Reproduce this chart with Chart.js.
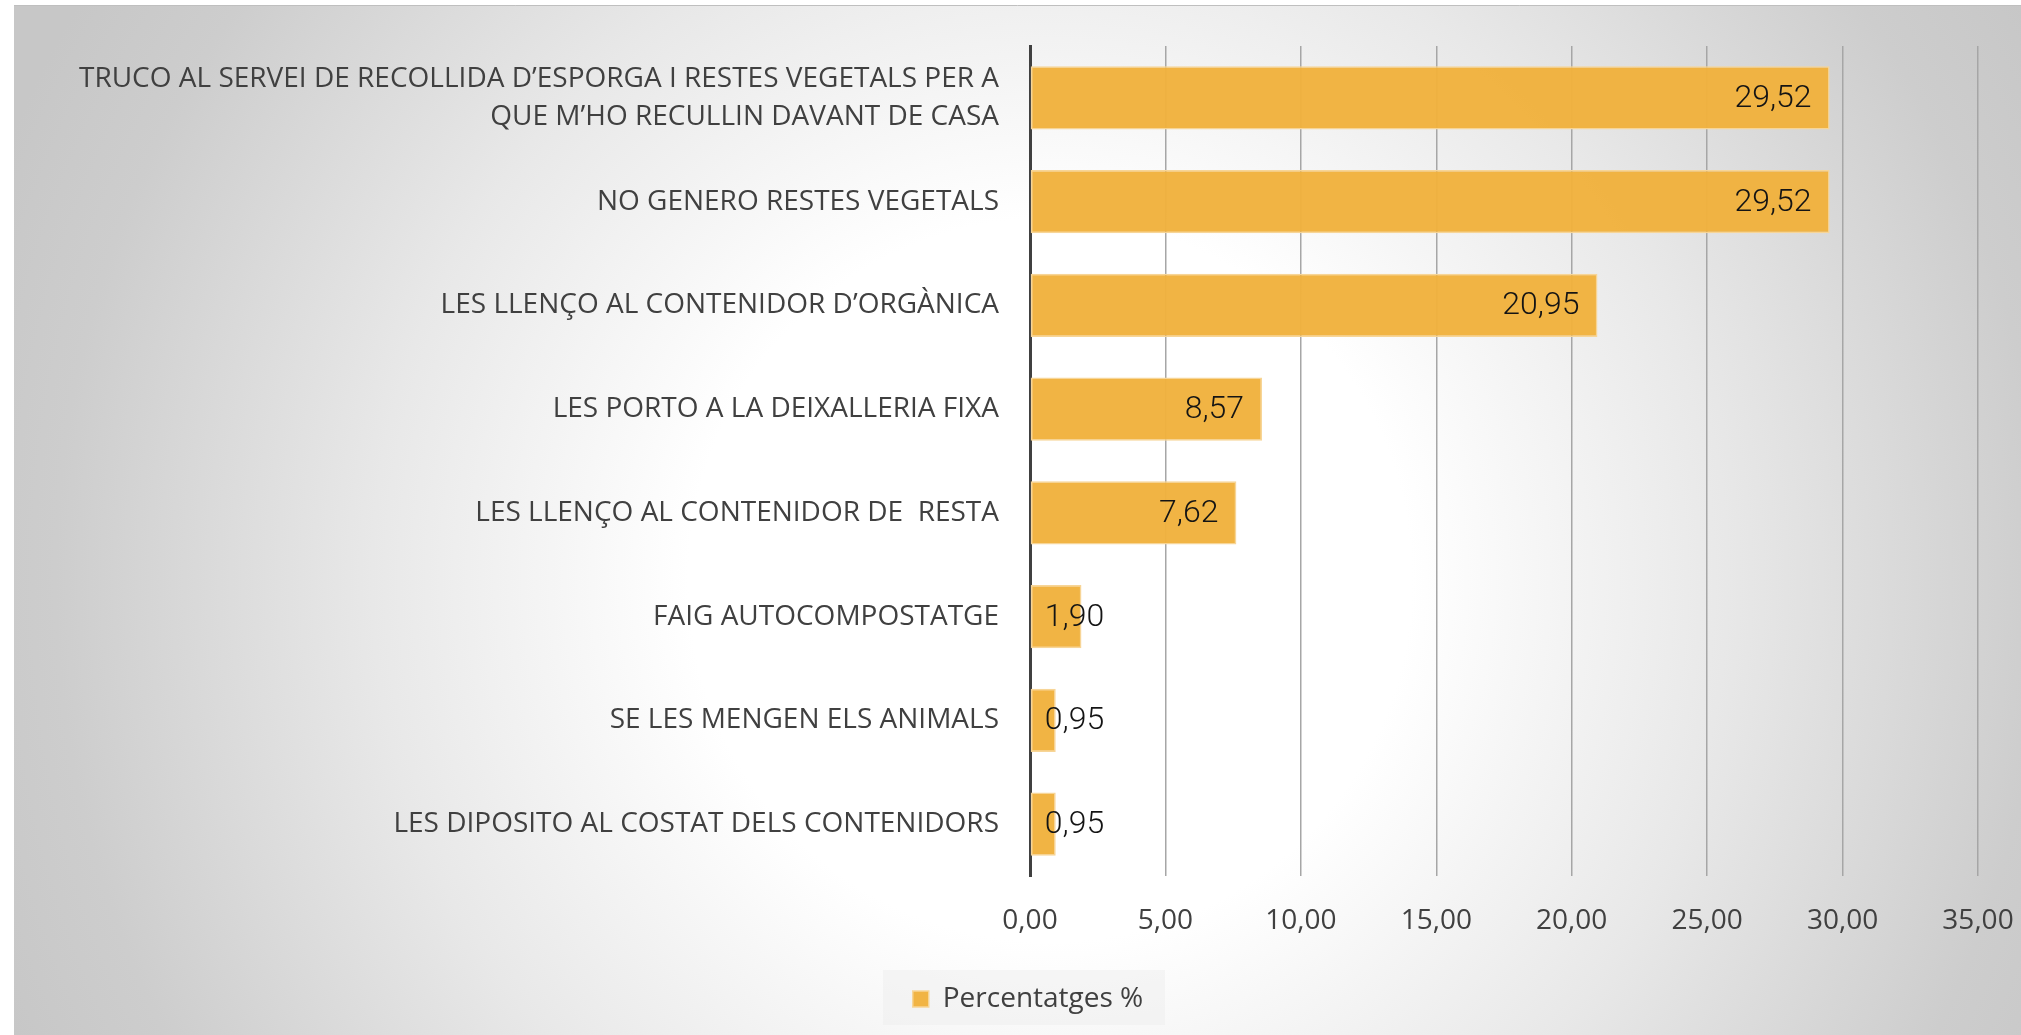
<!DOCTYPE html>
<html>
<head>
<meta charset="utf-8">
<script src="https://cdn.jsdelivr.net/npm/chart.js@4/dist/chart.umd.min.js"></script>
<style>
  html, body { margin: 0; padding: 0; background: #ffffff; }
  #wrap { position: relative; width: 2021px; height: 1035px; }
</style>
</head>
<body>
<div id="wrap"><canvas id="chart"></canvas></div>
<script>
// Categories (top to bottom) and values
const categories = [
    ['TRUCO AL SERVEI DE RECOLLIDA D\u2019ESPORGA I RESTES VEGETALS PER A', 'QUE M\u2019HO RECULLIN DAVANT DE CASA'],
    'NO GENERO RESTES VEGETALS',
    'LES LLEN\u00c7O AL CONTENIDOR D\u2019ORG\u00c0NICA',
    'LES PORTO A LA DEIXALLERIA FIXA',
    'LES LLEN\u00c7O AL CONTENIDOR DE  RESTA',
    'FAIG AUTOCOMPOSTATGE',
    'SE LES MENGEN ELS ANIMALS',
    'LES DIPOSITO AL COSTAT DELS CONTENIDORS'
];
const percentatges = [29.52, 29.52, 20.95, 8.57, 7.62, 1.90, 0.95, 0.95];
const seriesName = 'Percentatges %';
const xTicks = [0, 5, 10, 15, 20, 25, 30, 35];

const fmt = v => v.toFixed(2).replace('.', ',');

// Gradient background + legend panel
const backdrop = {
    id: 'backdrop',
    afterLayout(chart) {
        // legend sits centred under the plot rather than the canvas
        chart.legend.left += 39;
        chart.legend.right += 39;
    },
    beforeDraw(chart) {
        const { ctx, width, height } = chart;
        ctx.save();
        const g = ctx.createRadialGradient(1050, 580, 0, 1050, 580, 1130);
        g.addColorStop(0, '#ffffff');
        g.addColorStop(0.32, '#ffffff');
        g.addColorStop(0.6, '#e8e8e8');
        g.addColorStop(0.88, '#cdcdcd');
        g.addColorStop(1, '#c7c7c7');
        ctx.fillStyle = g;
        ctx.fillRect(14, 5, width - 14, height - 5);
        ctx.strokeStyle = '#bfbfbf';
        ctx.lineWidth = 1;
        ctx.beginPath();
        ctx.moveTo(14, 5.5);
        ctx.lineTo(width, 5.5);
        ctx.stroke();
        ctx.fillStyle = 'rgba(238,238,238,0.55)';
        ctx.fillRect(883, 970, 282, 55);
        ctx.restore();
    }
};

// Value labels at the inside end, clamped to the base
const valueLabels = {
    id: 'valueLabels',
    afterDatasetsDraw(chart) {
        const { ctx } = chart;
        const meta = chart.getDatasetMeta(0);
        ctx.save();
        ctx.font = '300 32px Roboto';
        ctx.fillStyle = '#141414';
        ctx.textBaseline = 'middle';
        meta.data.forEach((bar, i) => {
            const text = fmt(percentatges[i]);
            const w = ctx.measureText(text).width;
            const x = Math.max(bar.x - 18 - w, bar.base + 14);
            ctx.fillText(text, x, bar.y + 1);
        });
        ctx.restore();
    }
};

new Chart(document.getElementById('chart'), {
    type: 'bar',
    data: {
        labels: categories,
        datasets: [{
            label: seriesName,
            data: percentatges,
            backgroundColor: 'rgba(240,177,60,0.96)',
            borderColor: '#f7d597',
            borderWidth: 1.5,
            borderSkipped: false,
            barPercentage: 0.61,
            categoryPercentage: 1
        }]
    },
    options: {
        indexAxis: 'y',
        responsive: true,
        maintainAspectRatio: false,
        animation: false,
        layout: { padding: { left: 0, right: 43, top: 46, bottom: 12 } },
        plugins: {
            legend: {
                position: 'bottom',
                labels: {
                    color: '#404040',
                    font: { family: 'Open Sans', size: 28 },
                    boxWidth: 16,
                    boxHeight: 16,
                    padding: 11
                }
            },
            tooltip: { enabled: false }
        },
        scales: {
            x: {
                min: 0,
                max: 35,
                afterBuildTicks(scale) { scale.ticks = xTicks.map(v => ({ value: v })); },
                afterFit(scale) {
                    scale.height = 98;
                    scale.paddingLeft = 0;
                    scale.paddingRight = 0;
                },
                grid: { color: '#a6a6a6', lineWidth: 1.5, drawTicks: false },
                border: { display: false },
                ticks: {
                    color: '#404040',
                    font: { family: 'Open Sans', size: 28 },
                    padding: 28,
                    callback: v => fmt(v)
                }
            },
            y: {
                afterFit(scale) {
                    scale.width = 1030;
                    scale.paddingTop = 0;
                    scale.paddingBottom = 0;
                },
                grid: { display: false },
                border: { color: '#404040', width: 3 },
                ticks: {
                    color: '#404040',
                    font: { family: 'Open Sans', size: 28, lineHeight: 1.36 },
                    padding: 23
                }
            }
        }
    },
    plugins: [backdrop, valueLabels]
});
</script>
</body>
</html>
